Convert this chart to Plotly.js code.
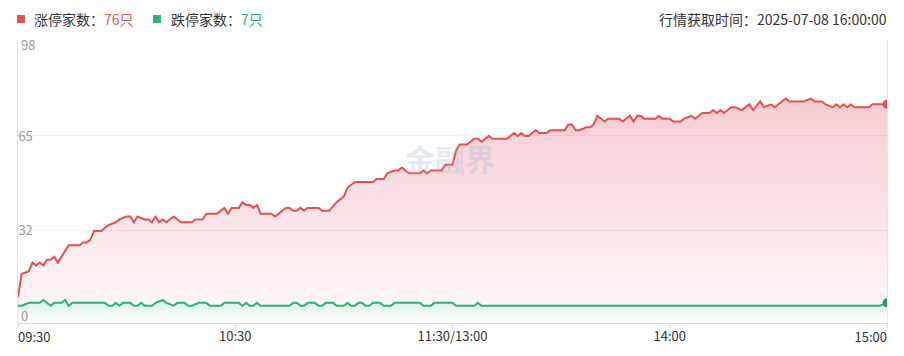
<!DOCTYPE html>
<html><head><meta charset="utf-8">
<script src="https://cdn.plot.ly/plotly-3.0.1.min.js"></script>
<style>html,body{margin:0;padding:0;background:#fff}#chart{width:904px;height:356px}</style>
</head><body><div id="chart"></div>
<script>
// trading minutes since 09:30 (11:30 and 13:00 are the same point, 120)
const redT = [
  0,1,3,4,5,6,7,8,9,10,
  11,14,17,18,19,20,21,23,24,25,
  27,28,30,31,32,33,35,36,37,38,
  39,40,41,43,45,48,49,51,52,55,
  57,58,59,61,62,63,64,65,66,67,
  70,71,72,74,75,76,77,78,79,80,
  83,84,86,88,90,91,93,98,99,101,
  102,104,105,106,107,108,111,112,113,114,
  117,118,120,121,122,124,126,127,128,130,
  131,135,137,138,139,140,141,143,144,146,
  147,151,152,153,154,155,157,158,159,160,
  162,163,166,167,169,170,171,172,173,176,
  177,178,180,181,183,184,186,187,189,191,
  192,193,194,195,197,198,200,202,203,205,
  206,208,209,210,212,213,217,219,220,222,
  223,225,226,227,228,229,230,231,235,236,
  240];
const redV = [
  9,17,18,21,20,21,20,22,22,23,
  21,27,27,28,28,29,32,32,33,34,
  35,36,37,37,35,37,36,36,35,37,
  35,36,35,37,35,35,36,36,38,38,
  40,38,40,40,42,41,41,40,41,38,
  38,37,38,40,40,39,39,40,39,40,
  40,39,39,42,44,47,49,49,50,50,
  52,53,53,54,53,52,52,53,52,53,
  53,55,55,60,62,62,64,64,63,65,
  64,64,66,65,66,65,65,67,66,66,
  67,67,69,69,67,67,68,68,69,72,
  70,71,71,70,72,70,72,72,71,71,
  72,71,71,70,70,71,72,71,73,73,
  74,73,74,73,75,75,74,76,74,77,
  75,76,75,76,78,77,77,78,77,77,
  76,75,76,75,76,75,76,75,75,76,
  76];
const greenT = [
  0,1,3,6,7,9,10,12,13,14,
  15,24,25,26,27,28,29,31,32,33,
  34,35,37,38,40,41,43,44,46,47,
  48,50,52,53,56,57,61,62,63,64,
  65,66,67,75,76,77,78,79,80,82,
  83,84,85,87,88,90,91,92,93,94,
  95,96,97,98,100,101,103,104,111,112,
  114,115,120,121,126,127,128,238,240];
const greenV = [
  6,6,7,7,8,6,7,7,8,6,
  7,7,6,6,7,6,7,7,6,6,
  7,6,6,7,8,7,6,7,7,6,
  6,7,7,6,6,7,7,6,7,6,
  6,7,6,6,7,7,6,6,7,7,
  6,6,7,7,6,6,7,6,6,7,
  7,6,6,7,7,6,6,7,7,6,
  6,7,7,6,6,7,6,6,7];
const tickVals = [0, 60, 120, 180, 240];
const tickText = ['09:30', '10:30', '11:30/13:00', '14:00', '15:00'];
const yTicks = [0, 32, 65, 98];
const upName = '涨停家数：';
const downName = '跌停家数：';
const unit = '只';
const timeText = '行情获取时间：2025-07-08 16:00:00';

const RED = '#e4504f', GREEN = '#33b07a';
const FONT = '"Noto Sans CJK SC", "Noto Sans", sans-serif';
const last = a => a[a.length - 1];
const first = a => a[0];

const L = 18, R = 17, T = 41, B = 33, W = 904, H = 356;
const pw = W - L - R, ph = H - T - B;
const px = x => (x - L) / pw;
const py = y => (H - B - y) / ph;
const xRange = [first(tickVals), last(tickVals)];
const yRange = [first(yTicks), last(yTicks)];

const traces = [
  { x: redT, y: redV, type: 'scatter', mode: 'lines', line: {color: RED, width: 2},
    fill: 'tozeroy',
    fillgradient: {type: 'vertical', start: 0, stop: 80,
      colorscale: [[0, 'rgba(228,80,104,0.03)'], [1, 'rgba(228,80,104,0.30)']]},
    hoverinfo: 'skip' },
  { x: greenT, y: greenV, type: 'scatter', mode: 'lines', line: {color: GREEN, width: 2},
    fill: 'tozeroy',
    fillgradient: {type: 'vertical', start: 0, stop: 7,
      colorscale: [[0, 'rgb(255,255,255)'], [1, 'rgb(221,243,233)']]},
    hoverinfo: 'skip' },
  { x: [last(redT)], y: [last(redV)], type: 'scatter', mode: 'markers', xaxis: 'x2', yaxis: 'y2',
    marker: {color: RED, size: 9}, hoverinfo: 'skip' },
  { x: [last(greenT)], y: [last(greenV)], type: 'scatter', mode: 'markers', xaxis: 'x3', yaxis: 'y3',
    marker: {color: '#2a9a5e', size: 9}, hoverinfo: 'skip' }
];

const tf = {family: FONT, size: 13, color: '#333'};
const yf = {family: FONT, size: 13, color: '#9a9a9a'};

const layout = {
  width: W, height: H,
  margin: {l: L, r: R, t: T, b: B},
  paper_bgcolor: '#fff', plot_bgcolor: '#fff',
  showlegend: false,
  font: {family: FONT, color: '#333', size: 13},
  xaxis: {
    range: xRange, showgrid: false, zeroline: false,
    showline: true, linecolor: '#dcdcdc', linewidth: 1,
    ticks: 'outside', ticklen: 4, tickcolor: '#dcdcdc', ticklabelstandoff: -3,
    tickvals: tickVals, ticktext: tickText.map((t, i) => (i === 0 || i === tickText.length - 1) ? '' : t),
    tickfont: tf, fixedrange: true
  },
  xaxis2: {
    overlaying: 'x', anchor: 'y', side: 'bottom', range: xRange,
    showgrid: false, zeroline: false, showline: false, ticks: '',
    tickvals: [first(tickVals)], ticktext: [first(tickText)], ticklabelstandoff: 5,
    ticklabelposition: 'outside right', ticklabeloverflow: 'allow', tickfont: tf
  },
  xaxis3: {
    overlaying: 'x', anchor: 'y', side: 'bottom', range: xRange,
    showgrid: false, zeroline: false, showline: false, ticks: '',
    tickvals: [last(tickVals)], ticktext: [last(tickText)], ticklabelstandoff: 5,
    ticklabelposition: 'outside left', ticklabeloverflow: 'allow', tickfont: tf
  },
  yaxis: {
    range: yRange, tickvals: yTicks.slice(1, -1), ticktext: yTicks.slice(1, -1).map(String),
    showgrid: true, gridcolor: '#efefef', gridwidth: 1, zeroline: false,
    showline: true, linecolor: '#e6e6e6', mirror: true, ticks: '',
    ticklabelposition: 'inside', ticklabeloverflow: 'allow', tickfont: yf, fixedrange: true
  },
  yaxis2: {
    overlaying: 'y', anchor: 'x', side: 'left', range: yRange,
    tickvals: [last(yTicks)], ticktext: [String(last(yTicks))], ticklabelshift: -5,
    showgrid: true, gridcolor: '#efefef', zeroline: false, showline: false, ticks: '',
    ticklabelposition: 'inside bottom', ticklabeloverflow: 'allow', tickfont: yf
  },
  yaxis3: {
    overlaying: 'y', anchor: 'x', side: 'left', range: yRange,
    tickvals: [first(yTicks)], ticktext: [String(first(yTicks))], ticklabelshift: 3,
    showgrid: false, zeroline: false, showline: false, ticks: '',
    ticklabelposition: 'inside top', ticklabeloverflow: 'allow', tickfont: yf
  },
  shapes: [
    {type: 'rect', xref: 'paper', yref: 'paper', x0: px(17), x1: px(25), y0: py(23), y1: py(15),
     fillcolor: RED, line: {width: 0}},
    {type: 'rect', xref: 'paper', yref: 'paper', x0: px(153), x1: px(161), y0: py(23), y1: py(15),
     fillcolor: GREEN, line: {width: 0}}
  ],
  annotations: [
    {xref: 'paper', yref: 'paper', x: px(32), y: py(19), xanchor: 'left', yanchor: 'middle',
     showarrow: false, font: {family: FONT, size: 14, color: '#333'},
     text: upName + '<span style="color:#e05c5c">' + last(redV) + unit + '</span>'},
    {xref: 'paper', yref: 'paper', x: px(169), y: py(19), xanchor: 'left', yanchor: 'middle',
     showarrow: false, font: {family: FONT, size: 14, color: '#333'},
     text: downName + '<span style="color:#2fae78">' + last(greenV) + unit + '</span>'},
    {xref: 'paper', yref: 'paper', x: px(889), y: py(19), xanchor: 'right', yanchor: 'middle',
     showarrow: false, font: {family: FONT, size: 14, color: '#333'}, text: timeText},
    {xref: 'paper', yref: 'paper', x: px(450), y: py(158), xanchor: 'center', yanchor: 'middle',
     showarrow: false, font: {family: FONT, size: 30, color: 'rgba(160,178,212,0.30)'},
     text: '<b>金融界</b>'}
  ]
};

Plotly.newPlot('chart', traces, layout, {displayModeBar: false, staticPlot: true});
</script>
</body></html>
